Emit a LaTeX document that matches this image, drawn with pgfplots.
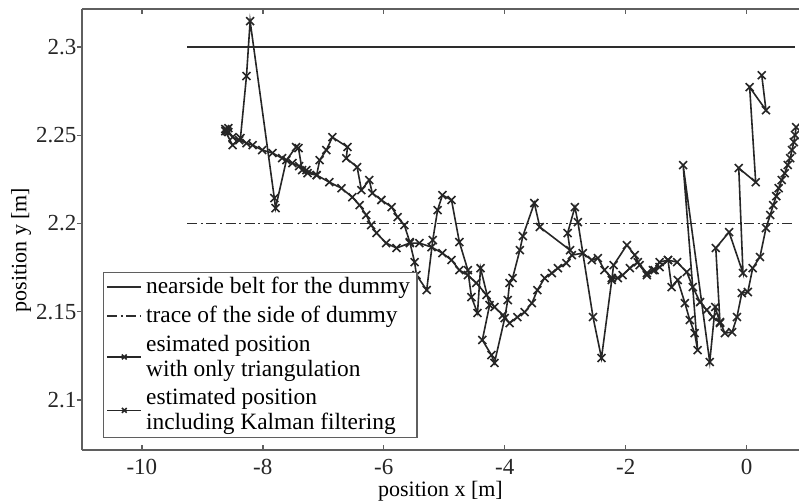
\documentclass[border=0pt]{standalone}
\usepackage{fontspec}
\setmainfont{Liberation Serif}
\usepackage{pgfplots}
\pgfplotsset{compat=1.18}
\definecolor{axgray}{RGB}{95,95,95}
\definecolor{lgray}{RGB}{45,45,45}

\begin{document}
\begin{tikzpicture}
\begin{axis}[
  name=ax,
  scale only axis,
  width=358.5pt, height=220.5pt,
  xmin=-10.99, xmax=0.866,
  ymin=2.0717, ymax=2.3215,
  axis x line=box, axis y line=left,
  x axis line style={axgray,line width=0.8pt},
  y axis line style={-,axgray,line width=0.8pt},
  every non boxed y axis/.append style={ytick align=outside},
  xtick align=inside, ytick align=outside,
  major tick length=2.6pt,
  tick style={axgray,line width=0.7pt},
  xtick={-10,-8,-6,-4,-2,0},
  xticklabels={-10,-8,-6,-4,-2,0},
  ytick={2.1,2.15,2.2,2.25,2.3},
  yticklabels={2.1,2.15,2.2,2.25,2.3},
  tick label style={font=\fontsize{11.5}{13}\selectfont, black!85},
  xticklabel style={yshift=-1pt},
  yticklabel style={xshift=3.3pt},
  xlabel={position x [m]},
  ylabel={position y [m]},
  every axis x label/.style={at={(axis description cs:0.5,-0.094)},anchor=center,font=\fontsize{11}{13}\selectfont},
  every axis y label/.style={at={(axis description cs:-0.085,0.4535)},anchor=center,rotate=90,font=\fontsize{11}{13}\selectfont},
  legend style={at={(axis description cs:0.029,0.027)}, anchor=south west,
    draw=axgray, line width=0.6pt, font=\fontsize{11.7}{12.5}\selectfont,
    inner xsep=1.5pt, inner ysep=0.5pt, row sep=0.6pt, cells={anchor=west, align=left}},
  legend cell align=left,
  clip=false,
]
\addplot[lgray, line width=0.75pt] coordinates {(-9.25,2.3) (0.8,2.3)};
\addlegendentry{nearside belt for the dummy}
\addplot[lgray, line width=0.65pt, dash pattern=on 5pt off 1.8pt on 1pt off 1.8pt] coordinates {(-9.25,2.2) (0.8,2.2)};
\addlegendentry{trace of the side of dummy}
% triangulation only
\addplot[black!85, line width=0.8pt, mark=x, mark size=2.8pt, mark options={line width=0.8pt},
  legend image post style={mark size=1.7pt}] coordinates {
(-8.60,2.2529) (-8.57,2.2540) (-8.62,2.2523) (-8.50,2.2444) (-8.37,2.2484)
(-8.27,2.2835) (-8.21,2.3146) (-7.81,2.2144) (-7.79,2.2087) (-7.61,2.2359)
(-7.45,2.2433) (-7.41,2.2427) (-7.35,2.2302) (-7.26,2.2285) (-7.11,2.2274)
(-7.06,2.2359) (-6.95,2.2416) (-6.85,2.2489) (-6.60,2.2433) (-6.62,2.2370)
(-6.44,2.2319) (-6.37,2.2189) (-6.24,2.2246) (-6.19,2.2172) (-6.04,2.2133)
(-5.87,2.2093) (-5.77,2.2036) (-5.66,2.1991) (-5.57,2.1895) (-5.49,2.1781)
(-5.46,2.1708) (-5.29,2.1623) (-5.19,2.1906) (-5.11,2.2076) (-5.03,2.2161)
(-4.88,2.2133) (-4.75,2.1895) (-4.61,2.1736) (-4.55,2.1583) (-4.45,2.1493)
(-4.40,2.1747) (-4.25,2.1538) (-4.37,2.1340) (-4.22,2.1255) (-4.17,2.1210)
(-4.00,2.1464) (-3.95,2.1566) (-3.92,2.1663) (-3.87,2.1691) (-3.75,2.1849)
(-3.70,2.1929) (-3.51,2.2116) (-3.42,2.1980) (-2.92,2.1849) (-2.96,2.1946)
(-2.84,2.2093) (-2.79,2.2008) (-2.54,2.1470) (-2.40,2.1238) (-2.23,2.1680)
(-2.20,2.1764) (-1.98,2.1878) (-1.85,2.1821) (-1.77,2.1764) (-1.65,2.1708)
(-1.52,2.1736) (-1.44,2.1781) (-1.30,2.1793) (-1.24,2.1640) (-1.14,2.1680)
(-1.02,2.1549) (-0.94,2.1453) (-0.86,2.1379) (-0.81,2.1283) (-1.05,2.2331)
(-0.61,2.1215) (-0.52,2.1527) (-0.44,2.1436) (-0.51,2.1861) (-0.29,2.1951)
(-0.06,2.1719) (-0.13,2.2314) (0.15,2.2234) (0.05,2.2772) (0.32,2.2642)
(0.25,2.2840)
};
\addlegendentry{esimated position\\with only triangulation}
% with Kalman filtering
\addplot[black!85, line width=0.8pt, mark=x, mark size=2.8pt, mark options={line width=0.8pt},
  legend image post style={mark size=1.7pt}] coordinates {
(-8.62,2.2535) (-8.60,2.2529) (-8.59,2.2523) (-8.57,2.2518) (-8.50,2.2489)
(-8.39,2.2472) (-8.27,2.2455) (-8.17,2.2444) (-8.01,2.2416) (-7.84,2.2399)
(-7.68,2.2370) (-7.51,2.2342) (-7.40,2.2325) (-7.28,2.2302) (-7.11,2.2274)
(-6.90,2.2234) (-6.70,2.2200) (-6.52,2.2149) (-6.40,2.2104) (-6.29,2.2048)
(-6.21,2.1991) (-6.12,2.1946) (-5.96,2.1889) (-5.79,2.1861) (-5.57,2.1889)
(-5.41,2.1889) (-5.21,2.1866) (-5.03,2.1832) (-4.88,2.1793) (-4.75,2.1736)
(-4.61,2.1708) (-4.47,2.1663) (-4.30,2.1595) (-4.17,2.1527) (-4.03,2.1481)
(-3.92,2.1436) (-3.79,2.1470) (-3.67,2.1498) (-3.55,2.1549) (-3.46,2.1623)
(-3.34,2.1691) (-3.22,2.1719) (-3.12,2.1747) (-2.98,2.1776) (-2.89,2.1821)
(-2.71,2.1832) (-2.56,2.1793) (-2.46,2.1804) (-2.35,2.1736) (-2.23,2.1691)
(-2.13,2.1691) (-2.05,2.1708) (-1.93,2.1747) (-1.80,2.1781) (-1.65,2.1719)
(-1.55,2.1736) (-1.44,2.1753) (-1.30,2.1793) (-1.15,2.1781) (-0.99,2.1725)
(-0.89,2.1640) (-0.77,2.1555) (-0.66,2.1510) (-0.56,2.1470) (-0.44,2.1442)
(-0.36,2.1379) (-0.24,2.1385) (-0.16,2.1470) (-0.08,2.1606) (0.02,2.1612)
(0.10,2.1747) (0.22,2.1810) (0.32,2.1974) (0.39,2.2048) (0.44,2.2104)
(0.49,2.2155) (0.53,2.2200) (0.58,2.2246) (0.63,2.2285) (0.68,2.2331)
(0.72,2.2370) (0.75,2.2416) (0.78,2.2461) (0.80,2.2501) (0.82,2.2546)
};
\addlegendentry{estimated position\\including Kalman filtering}
\end{axis}
\pgfresetboundingbox
\path ([xshift=-41pt,yshift=-27pt]ax.south west) rectangle ([yshift=4.5pt]ax.north east);
\end{tikzpicture}
\end{document}
